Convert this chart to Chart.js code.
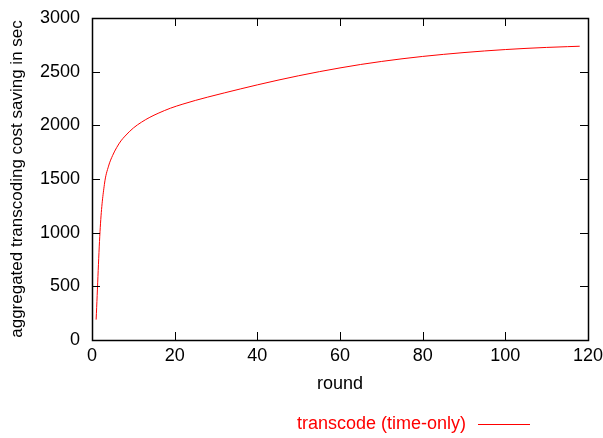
<!DOCTYPE html>
<html>
<head>
<meta charset="utf-8">
<script src="https://cdn.jsdelivr.net/npm/chart.js@4.4.1/dist/chart.umd.min.js"></script>
<style>
  html, body { margin: 0; padding: 0; background: #fff; }
  #wrap { width: 603px; height: 438px; }
</style>
</head>
<body>
<div id="wrap"><canvas id="chart" width="603" height="438"></canvas></div>
<script>
// datos
const rounds = [1, 2, 3, 4, 5, 6, 7, 8, 10, 12, 14, 16, 19, 22, 25, 28, 32, 36, 40,
  45, 50, 55, 60, 65, 70, 75, 80, 85, 90, 95, 100, 105, 110, 115, 118];
const savings = [190, 1050, 1450, 1620, 1720, 1795, 1855, 1900, 1975, 2030, 2075, 2112, 2160, 2198, 2232, 2263, 2302, 2340, 2377,
  2421, 2462, 2500, 2535, 2567, 2595, 2620, 2642, 2661, 2678, 2693, 2706, 2717, 2726, 2733, 2737];
const xTicks = [0, 20, 40, 60, 80, 100, 120];
const yTicks = [0, 500, 1000, 1500, 2000, 2500, 3000];
const seriesLabel = 'transcode (time-only)';

const FONT = '"Liberation Sans", Arial, Helvetica, sans-serif';

// marco estilo gnuplot: borde + ticks hacia dentro en los cuatro lados, y leyenda abajo
const frame = {
  id: 'frame',
  afterDraw(chart) {
    const { ctx, chartArea: a, scales: { x, y } } = chart;
    const len = 8;
    ctx.save();
    ctx.strokeStyle = '#000';
    ctx.lineWidth = 1;
    ctx.beginPath();
    xTicks.forEach(v => {
      const px = Math.round(x.getPixelForValue(v)) + 0.5;
      ctx.moveTo(px, a.bottom); ctx.lineTo(px, a.bottom - len);
      ctx.moveTo(px, a.top); ctx.lineTo(px, a.top + len);
    });
    yTicks.forEach(v => {
      const py = Math.round(y.getPixelForValue(v)) + 0.5;
      ctx.moveTo(a.left, py); ctx.lineTo(a.left + len, py);
      ctx.moveTo(a.right, py); ctx.lineTo(a.right - len, py);
    });
    ctx.stroke();
    ctx.lineWidth = 1.5;
    ctx.strokeRect(Math.round(a.left) + 0.5, Math.round(a.top) + 0.5,
      Math.round(a.right - a.left), Math.round(a.bottom - a.top));

    // leyenda
    ctx.font = '18px ' + FONT;
    ctx.fillStyle = '#ff0000';
    ctx.textAlign = 'right';
    ctx.textBaseline = 'middle';
    ctx.fillText(seriesLabel, 466, 424);
    ctx.strokeStyle = '#ff0000';
    ctx.lineWidth = 1;
    ctx.beginPath();
    ctx.moveTo(478, 424.5); ctx.lineTo(530, 424.5);
    ctx.stroke();
    ctx.restore();
  }
};

// sin relleno extra por las etiquetas, el area queda fija
const noPad = s => { s.paddingTop = 0; s.paddingBottom = 0; s.paddingLeft = 0; s.paddingRight = 0; };

new Chart(document.getElementById('chart'), {
  type: 'line',
  data: {
    datasets: [{
      label: seriesLabel,
      data: rounds.map((r, i) => ({ x: r, y: savings[i] })),
      borderColor: '#ff0000',
      borderWidth: 1,
      pointRadius: 0,
      fill: false,
      cubicInterpolationMode: 'monotone'
    }]
  },
  options: {
    responsive: false,
    animation: false,
    layout: { padding: { top: 18, right: 15, left: 0, bottom: 0 } },
    plugins: { legend: { display: false }, tooltip: { enabled: false } },
    scales: {
      x: {
        type: 'linear', min: 0, max: 120,
        afterFit: s => { s.height = 98; noPad(s); },
        afterBuildTicks: s => { s.ticks = xTicks.map(v => ({ value: v })); },
        grid: { display: false, drawTicks: false },
        border: { display: false },
        ticks: { color: '#000', padding: 5, maxRotation: 0, font: { family: FONT, size: 18 } },
        title: { display: true, text: 'round', color: '#000', padding: { top: 0, bottom: 43 }, font: { family: FONT, size: 18 } }
      },
      y: {
        min: 0, max: 3000,
        afterFit: s => { s.width = 92; noPad(s); },
        afterBuildTicks: s => { s.ticks = yTicks.map(v => ({ value: v })); },
        grid: { display: false, drawTicks: false },
        border: { display: false },
        ticks: { color: '#000', padding: 12, font: { family: FONT, size: 18 }, callback: v => String(v) },
        title: { display: true, text: 'aggregated transcoding cost saving in sec', color: '#000', padding: { top: 7, bottom: 0 }, font: { family: FONT, size: 17 } }
      }
    }
  },
  plugins: [frame]
});
</script>
</body>
</html>
